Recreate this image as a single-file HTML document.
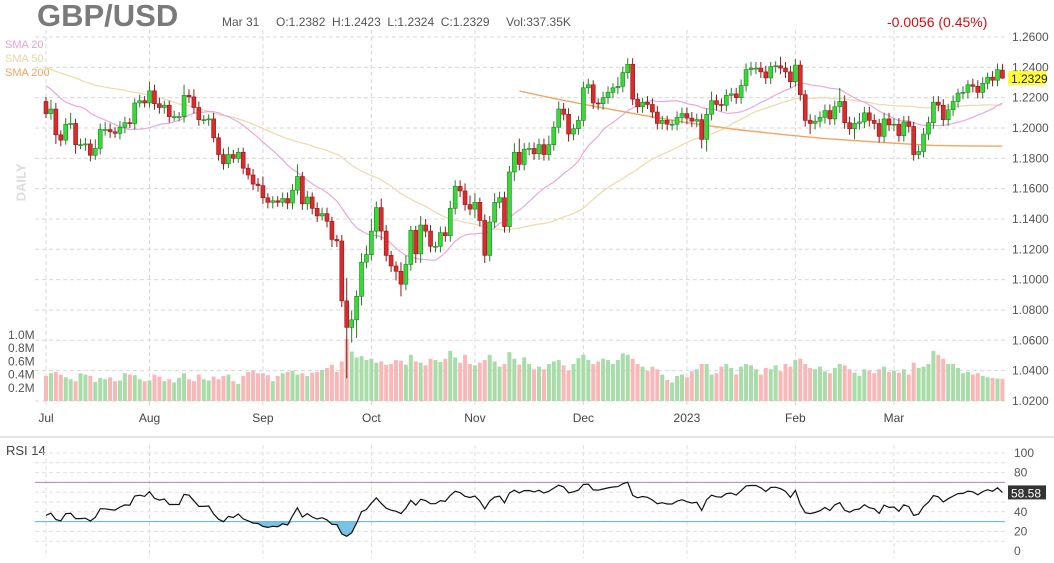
<!DOCTYPE html>
<html><head><meta charset="utf-8">
<style>
html,body{margin:0;padding:0;background:#fff;}
body{width:1054px;height:563px;overflow:hidden;font-family:"Liberation Sans",sans-serif;position:relative;}
.t{position:absolute;white-space:nowrap;}
</style></head>
<body>
<div class="t" style="left:37px;top:-2px;font-size:31px;font-weight:bold;color:#7a7a7a;">GBP/USD</div>
<div class="t" style="left:222px;top:15px;font-size:12px;color:#555;">Mar 31 &nbsp;&nbsp;&nbsp; O:1.2382 &nbsp;H:1.2423 &nbsp;L:1.2324 &nbsp;C:1.2329 &nbsp;&nbsp;&nbsp; Vol:337.35K</div>
<div class="t" style="left:887px;top:14px;font-size:14px;color:#d01010;">-0.0056 (0.45%)</div>
<div class="t" style="left:5px;top:39px;font-size:11px;color:#e8a0d8;">SMA 20</div>
<div class="t" style="left:5px;top:53px;font-size:11px;color:#ecd3a0;">SMA 50</div>
<div class="t" style="left:5px;top:67px;font-size:11px;color:#f4a460;">SMA 200</div>
<div class="t" style="left:2px;top:175px;font-size:13px;font-weight:bold;color:#ddd;transform:rotate(-90deg);">DAILY</div>
<div class="t" style="left:6px;top:443px;font-size:13px;color:#444;">RSI 14</div>
<svg id="chart" width="1054" height="563" style="position:absolute;left:0;top:0;"></svg>
<script>
const preCloses=[1.3060,1.3035,1.2835,1.2735,1.2575,1.2560,1.2480,1.2570,1.2490,1.2505,1.2630,1.2350,1.2335,1.2330,1.2320,1.2245,1.2200,1.2260,1.2315,1.2490,1.2345,1.2490,1.2490,1.2585,1.2530,1.2565,1.2605,1.2620,1.2625,1.2600,1.2485,1.2570,1.2490,1.2530,1.2590,1.2530,1.2495,1.2310,1.2145,1.2000,1.2185,1.2350,1.2220,1.2275,1.2275,1.2265,1.2265,1.2265,1.2260,1.2185,1.2130,1.2175];
const closes=[1.2095,1.2125,1.1955,1.1920,1.2025,1.2030,1.1890,1.1890,1.1895,1.1820,1.1865,1.1990,1.1990,1.1975,1.1965,1.2005,1.2035,1.2030,1.2165,1.2180,1.2165,
1.2245,1.2160,1.2135,1.2150,1.2075,1.2075,1.2075,1.2215,1.2205,1.2135,1.2055,1.2055,1.2060,1.1935,1.1825,1.1765,1.1825,1.1800,1.1840,1.1735,1.1690,1.1630,1.1620,
1.1540,1.1510,1.1520,1.1510,1.1535,1.1505,1.1590,1.1680,1.1500,1.1545,1.1470,1.1420,1.1435,1.1385,1.1265,1.1255,1.0860,1.0685,1.0735,1.0890,1.1115,1.1165,
1.1320,1.1475,1.1320,1.1160,1.1090,1.1055,1.0970,1.1100,1.1325,1.1170,1.1360,1.1320,1.1220,1.1220,1.1310,1.1290,1.1470,1.1615,1.1585,1.1495,1.1465,
1.1510,1.1390,1.1160,1.1380,1.1510,1.1540,1.1350,1.1710,1.1840,1.1760,1.1860,1.1865,1.1830,1.1890,1.1825,1.1890,1.2005,1.2125,1.2090,1.1960,1.1995,1.2050,
1.2265,1.2285,1.2165,1.2160,1.2200,1.2235,1.2265,1.2275,1.2365,1.2420,1.2190,1.2140,1.2170,1.2155,1.2105,1.2030,1.2050,1.2025,1.2025,1.2070,1.2095,
1.2065,1.2045,1.2055,1.1925,1.2090,1.2180,1.2155,1.2150,1.2215,1.2225,1.2200,1.2280,1.2385,1.2395,1.2395,1.2370,1.2330,1.2405,1.2410,1.2395,1.2370,1.2305,
1.2415,1.2220,1.2050,1.2030,1.2045,1.2070,1.2115,1.2060,1.2140,1.2175,1.2035,1.1995,1.2030,1.2040,1.2100,1.2050,1.2030,1.1945,1.2060,1.2020,
1.2025,1.1950,1.2040,1.2010,1.1825,1.1845,1.1960,1.2035,1.2170,1.2150,1.2055,1.2120,1.2175,1.2230,1.2235,1.2285,1.2275,1.2235,1.2295,1.2335,1.2315,1.2385,1.2329];
const firstOpen=1.2175;
const lastOpen=1.2382;
const wickUp=[30,60,40,30,40,70,30,40,40,30,60,40,50,40,30,40,40,30,30,40,30,
60,40,40,30,30,40,30,70,40,50,40,30,30,40,30,40,50,30,30,30,30,40,40,
60,30,30,30,40,40,40,80,30,40,30,40,40,40,30,30,40,150,60,40,60,60,
80,40,60,40,30,30,60,60,30,30,60,40,40,30,40,40,50,40,40,50,60,
60,30,40,40,60,40,40,40,60,90,40,40,40,40,40,60,40,50,40,40,30,30,
40,40,30,30,40,40,30,60,40,40,40,40,30,40,40,40,30,30,30,40,40,
40,40,40,40,40,60,40,40,40,40,40,40,40,40,40,40,40,30,30,60,40,40,
40,30,30,40,40,40,40,40,40,90,40,40,40,60,40,40,40,30,40,40,
40,40,40,40,30,40,40,40,40,40,40,40,40,30,40,30,40,40,40,30,40,40,41];
const wickDn=[30,40,60,40,30,30,60,30,40,40,30,40,40,40,30,40,40,30,40,30,30,
30,40,40,40,40,30,30,40,40,40,40,30,40,30,40,40,30,30,30,40,30,40,40,
40,40,40,30,30,40,40,30,40,40,40,40,30,40,50,40,40,335,100,120,60,40,
40,50,60,40,40,60,80,40,40,60,60,40,40,40,40,40,40,40,40,40,40,
60,40,50,40,40,40,40,40,60,40,40,40,40,40,40,40,40,40,40,50,40,40,
40,40,40,40,40,40,40,40,40,40,40,40,40,30,40,40,40,40,40,40,40,
40,40,40,60,80,40,40,40,40,40,40,40,40,40,40,40,40,40,40,40,40,40,
30,40,40,70,40,40,40,40,40,40,40,40,70,40,40,40,40,40,40,40,
40,40,40,40,40,30,40,40,40,40,40,40,40,40,40,40,40,40,40,40,40,40,5];
const volumes=[380,420,440,400,360,330,300,420,400,380,290,350,330,360,300,310,420,400,390,330,300,
310,400,370,300,330,280,350,420,330,300,400,330,310,370,330,380,400,300,260,380,440,460,420,
420,390,300,380,420,440,460,400,420,380,430,440,470,500,550,440,600,940,750,660,680,620,
640,580,600,550,560,620,610,550,700,600,580,540,640,620,590,640,760,660,580,700,560,
540,580,620,700,600,520,560,740,640,550,660,560,480,520,480,560,600,620,540,460,560,650,
700,620,560,600,640,620,560,620,720,700,640,560,520,460,520,480,400,320,280,380,400,
360,450,480,560,560,400,420,520,560,500,400,520,560,540,480,400,500,480,540,450,560,520,
620,640,560,500,480,520,450,420,500,560,540,480,430,380,480,460,420,480,520,440,
460,430,480,400,580,500,520,560,760,700,640,560,560,500,420,440,400,420,380,360,350,340,337];
const sma200Days=[96,103,110,120,130,140,150,158,165,172,180,187,194];
const sma200Vals=[1.2244,1.2195,1.2150,1.2090,1.2035,1.1990,1.1955,1.1930,1.1915,1.1900,1.1885,1.1882,1.1880];
const monthLabels=["Jul","Aug","Sep","Oct","Nov","Dec","2023","Feb","Mar"];
const monthStarts=[0,21,44,66,87,109,130,152,172];
const priceTicks=[1.26,1.24,1.22,1.20,1.18,1.16,1.14,1.12,1.10,1.08,1.06,1.04,1.02];
const volTicks=[0.2,0.4,0.6,0.8,1.0];
const rsiTicks=[0,20,40,60,80,100];

const svg=document.getElementById('chart');
const NS='http://www.w3.org/2000/svg';
function mk(tag,attrs,parent){const e=document.createElementNS(NS,tag);for(const k in attrs)e.setAttribute(k,attrs[k]);(parent||svg).appendChild(e);return e;}
const xOf=i=>46+4.93*i;
const yP=p=>37+(1.26-p)/0.02*30.33;
const yV=v=>401-v/1000*66;
const yR=v=>551-v*0.98;

// grids
for(const p of priceTicks){
  const l=mk('line',{x1:35,x2:1005,y1:yP(p),y2:yP(p),stroke:'#d8d8d8','stroke-dasharray':'4,3'});
  
  
  const t=mk('text',{x:1012,y:yP(p)+4,'font-size':12,fill:'#555','font-family':'Liberation Sans'});
  t.textContent=p.toFixed(4);
  
  
}
for(let v=10;v<=100;v+=10){
  const l=mk('line',{x1:35,x2:1005,y1:yR(v),y2:yR(v),stroke:'#e0e0e0','stroke-dasharray':'4,3'});
  
  
}
for(const v of rsiTicks){
  const t=mk('text',{x:1014,y:yR(v)+4,'font-size':12,fill:'#555','font-family':'Liberation Sans'});
  t.textContent=v;
  
  
}
for(let m=0;m<monthStarts.length;m++){
  const x=xOf(monthStarts[m]);
  const l=mk('line',{x1:x,x2:x,y1:30,y2:405,stroke:'#d8d8d8','stroke-dasharray':'4,3'});
  
  
  const l2=mk('line',{x1:x,x2:x,y1:445,y2:558,stroke:'#e0e0e0','stroke-dasharray':'4,3'});
  
  
  const t=mk('text',{x:x,y:422,'font-size':12,fill:'#444','text-anchor':'middle','font-family':'Liberation Sans'});
  t.textContent=monthLabels[m];
  
  
}
const sep=mk('line',{x1:0,x2:1054,y1:437,y2:437,stroke:'#ccc'});


for(const v of volTicks){
  const t=mk('text',{x:8,y:yV(v*1000)+4,'font-size':12,fill:'#555','font-family':'Liberation Sans'});
  t.textContent=v.toFixed(1)+'M';
  
  
}

// opens
const opens=closes.map((c,i)=>i===0?firstOpen:(i===closes.length-1?lastOpen:closes[i-1]));

// volume
for(let i=0;i<closes.length;i++){
  const up=closes[i]>=opens[i];
  const r=mk('rect',{x:xOf(i)-2,y:yV(volumes[i]),width:4,height:401-yV(volumes[i]),fill:up?'#a8dca8':'#f8b8b8'});
  
  
}

// SMAs
const all=preCloses.concat(closes);
function smaPath(n){let d='';for(let i=0;i<closes.length;i++){const k=preCloses.length+i;let s=0,c=0;for(let j=Math.max(0,k-n+1);j<=k;j++){s+=all[j];c++;}d+=(i?'L':'M')+xOf(i).toFixed(1)+','+yP(s/c).toFixed(1);}return d;}
const s50=mk('path',{d:smaPath(50),fill:'none',stroke:'#f0d8a8','stroke-width':1.2});


const s20=mk('path',{d:smaPath(20),fill:'none',stroke:'#e8a8dc','stroke-width':1.2});


let d2='';sma200Days.forEach((di,k)=>{d2+=(k?'L':'M')+xOf(di).toFixed(1)+','+yP(sma200Vals[k]).toFixed(1);});
const s200=mk('path',{d:d2,fill:'none',stroke:'#f4a460','stroke-width':1.4});



// candles
for(let i=0;i<closes.length;i++){
  const o=opens[i],c=closes[i],up=c>=o;
  const hi=Math.max(o,c)+wickUp[i]/10000,lo=Math.min(o,c)-wickDn[i]/10000;
  const x=xOf(i);
  const w=mk('line',{x1:x,x2:x,y1:yP(hi),y2:yP(lo),stroke:up?'#2a7a2a':'#8a1a1a','stroke-width':1});
  
  
  const top=yP(Math.max(o,c)),bot=yP(Math.min(o,c));
  const b=mk('rect',{x:x-2,y:top,width:4,height:Math.max(1,bot-top),fill:up?'#33dd33':'#dd2b2b',stroke:up?'#2a7a2a':'#8a1a1a','stroke-width':0.6});
  
  
}
// last price tag
const lp=closes[closes.length-1];
const tagR=mk('rect',{x:1008,y:yP(lp)-7,width:38,height:14,fill:'#ffff33'});


const tagT=mk('text',{x:1011,y:yP(lp)+5,'font-size':12,fill:'#222','font-family':'Liberation Sans'});
tagT.textContent=lp.toFixed(4);



// RSI
const rsi=[];{let ag=0,al=0;const N=14;for(let k=1;k<all.length;k++){const ch=all[k]-all[k-1];const g=Math.max(ch,0),l=Math.max(-ch,0);if(k<=N){ag+=g/N;al+=l/N;}else{ag=(ag*(N-1)+g)/N;al=(al*(N-1)+l)/N;}if(k>=preCloses.length){rsi.push(al===0?100:100-100/(1+ag/al));}}}
const l70=mk('line',{x1:35,x2:1005,y1:yR(70),y2:yR(70),stroke:'#b080d0'});


const l30=mk('line',{x1:35,x2:1005,y1:yR(30),y2:yR(30),stroke:'#5ab4e0'});


let rd='',fd='';
for(let i=0;i<rsi.length;i++){rd+=(i?'L':'M')+xOf(i).toFixed(1)+','+yR(rsi[i]).toFixed(1);fd+=(i?'L':'M')+xOf(i).toFixed(1)+','+yR(Math.min(30,rsi[i])).toFixed(1);}
fd+='L'+xOf(rsi.length-1)+','+yR(30)+'L'+xOf(0)+','+yR(30)+'Z';
const rf=mk('path',{d:fd,fill:'#5ab4e0',opacity:0.8});


const rl=mk('path',{d:rd,fill:'none',stroke:'#111','stroke-width':1.2});


const rv=rsi[rsi.length-1];
const rb=mk('rect',{x:1008,y:yR(rv)-7,width:38,height:14,fill:'#333'});


const rt=mk('text',{x:1011,y:yR(rv)+5,'font-size':12,fill:'#fff','font-family':'Liberation Sans'});
rt.textContent='58.58';


</script>
</body></html>
